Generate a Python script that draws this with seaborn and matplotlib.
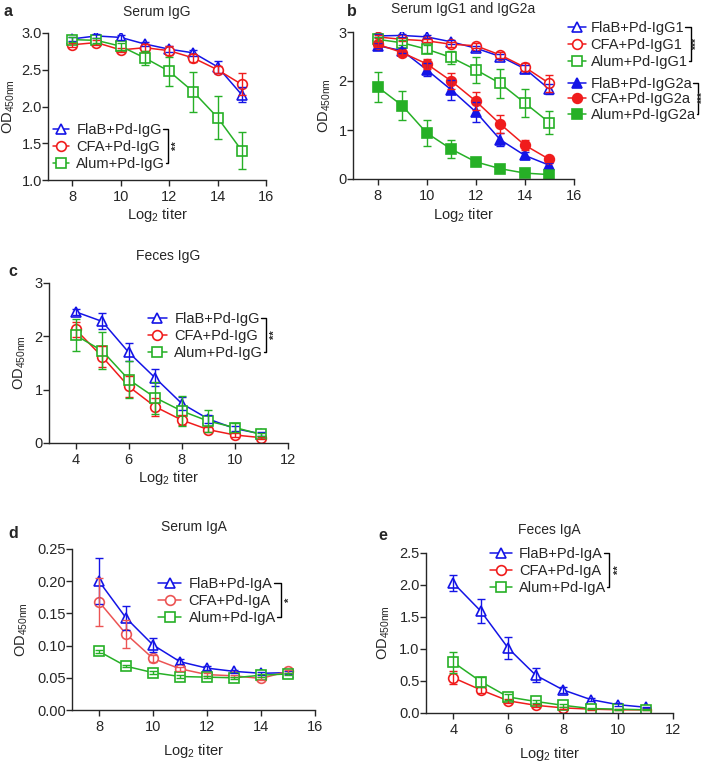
import matplotlib
matplotlib.use("Agg")
import matplotlib.pyplot as plt
import matplotlib.ticker as mticker
import seaborn as sns
from matplotlib.lines import Line2D

sns.set_style("ticks")
plt.rcParams["font.family"] = ["Liberation Sans", "DejaVu Sans"]
plt.rcParams["mathtext.default"] = "regular"
plt.rcParams["axes.linewidth"] = 1.0

BLUE = "#1414e6"
RED = "#f01c1c"
RED_D = "#ec5454"
GREEN = "#26b026"
FS = 10.5

# ── Data ─────────────────────────────────────────────────────────────────────
x_serum = [8, 9, 10, 11, 12, 13, 14, 15]
x_feces = [4, 5, 6, 7, 8, 9, 10, 11]

# a — Serum IgG
a_flab = [2.92, 2.96, 2.94, 2.85, 2.78, 2.73, 2.54, 2.16]
a_flab_err = [0.03, 0.03, 0.03, 0.03, 0.04, 0.04, 0.08, 0.10]
a_cfa = [2.84, 2.87, 2.77, 2.80, 2.76, 2.66, 2.50, 2.30]
a_cfa_err = [0.03, 0.03, 0.03, 0.05, 0.06, 0.05, 0.05, 0.15]
a_alum = [2.91, 2.90, 2.82, 2.66, 2.48, 2.20, 1.85, 1.40]
a_alum_err = [0.03, 0.03, 0.05, 0.10, 0.20, 0.27, 0.29, 0.25]

# b — Serum IgG1 / IgG2a
b_flab1 = [2.92, 2.93, 2.90, 2.80, 2.67, 2.50, 2.25, 1.83]
b_flab1_err = [0.03, 0.03, 0.03, 0.04, 0.05, 0.06, 0.08, 0.10]
b_cfa1 = [2.90, 2.85, 2.82, 2.75, 2.72, 2.53, 2.28, 1.95]
b_cfa1_err = [0.03, 0.03, 0.03, 0.05, 0.05, 0.06, 0.08, 0.17]
b_alum1 = [2.85, 2.78, 2.65, 2.48, 2.23, 1.95, 1.55, 1.15]
b_alum1_err = [0.05, 0.05, 0.08, 0.13, 0.27, 0.30, 0.28, 0.23]
b_flab2a = [2.72, 2.62, 2.23, 1.82, 1.37, 0.80, 0.48, 0.28]
b_flab2a_err = [0.05, 0.05, 0.13, 0.20, 0.20, 0.13, 0.07, 0.05]
b_cfa2a = [2.75, 2.58, 2.35, 2.00, 1.59, 1.12, 0.69, 0.40]
b_cfa2a_err = [0.05, 0.06, 0.10, 0.17, 0.19, 0.18, 0.10, 0.05]
b_alum2a = [1.88, 1.50, 0.94, 0.61, 0.35, 0.21, 0.12, 0.09]
b_alum2a_err = [0.30, 0.30, 0.27, 0.18, 0.05, 0.03, 0.02, 0.02]

# c — Feces IgG
c_flab = [2.46, 2.28, 1.70, 1.22, 0.74, 0.45, 0.27, 0.17]
c_flab_err = [0.06, 0.15, 0.17, 0.16, 0.12, 0.08, 0.05, 0.03]
c_cfa = [2.13, 1.62, 1.06, 0.68, 0.43, 0.25, 0.15, 0.10]
c_cfa_err = [0.14, 0.20, 0.20, 0.17, 0.10, 0.05, 0.03, 0.02]
c_alum = [2.02, 1.73, 1.19, 0.85, 0.60, 0.41, 0.29, 0.16]
c_alum_err = [0.30, 0.35, 0.34, 0.30, 0.28, 0.20, 0.08, 0.03]

# d — Serum IgA
d_flab = [0.200, 0.143, 0.101, 0.075, 0.065, 0.060, 0.057, 0.058]
d_flab_err = [0.036, 0.019, 0.011, 0.004, 0.003, 0.002, 0.002, 0.002]
d_cfa = [0.168, 0.118, 0.080, 0.064, 0.055, 0.053, 0.049, 0.060]
d_cfa_err = [0.037, 0.022, 0.006, 0.003, 0.002, 0.002, 0.002, 0.002]
d_alum = [0.091, 0.068, 0.058, 0.052, 0.051, 0.050, 0.054, 0.056]
d_alum_err = [0.002, 0.002, 0.002, 0.002, 0.002, 0.002, 0.002, 0.002]

# e — Feces IgA
e_flab = [2.03, 1.59, 1.01, 0.59, 0.36, 0.21, 0.13, 0.09]
e_flab_err = [0.13, 0.19, 0.17, 0.11, 0.04, 0.03, 0.02, 0.01]
e_cfa = [0.55, 0.36, 0.19, 0.12, 0.08, 0.06, 0.05, 0.05]
e_cfa_err = [0.10, 0.05, 0.03, 0.02, 0.01, 0.01, 0.01, 0.01]
e_alum = [0.79, 0.49, 0.25, 0.18, 0.12, 0.07, 0.06, 0.05]
e_alum_err = [0.17, 0.08, 0.04, 0.03, 0.02, 0.01, 0.01, 0.01]

W, H = 709, 764
fig = plt.figure(figsize=(W / 100, H / 100), dpi=100)


def px_axes(left, top, right, bottom):
    return fig.add_axes([left / W, 1 - bottom / H, (right - left) / W, (bottom - top) / H])


def series(ax, x, y, err, color, marker, label, filled=False):
    sns.lineplot(x=x, y=y, ax=ax, color=color, marker=marker, markersize=7,
                 markerfacecolor=color if filled else "white", markeredgecolor=color,
                 markeredgewidth=1.2, linewidth=1.1, label=label, legend=False,
                 errorbar=None, zorder=2)
    line = ax.lines[-1]
    ax.errorbar(x, y, yerr=err, fmt="none", ecolor=color, elinewidth=1.0,
                capsize=3.2, capthick=1.0, zorder=3)
    return line


def style(ax, title, xlim, xticks, ylim, yticks, yfmt, title_pad, ypad=5, xpad=2):
    ax.set_xlim(*xlim)
    ax.set_ylim(*ylim)
    ax.set_xticks(xticks)
    ax.set_yticks(yticks)
    ax.yaxis.set_major_formatter(mticker.FormatStrFormatter(yfmt))
    ax.tick_params(labelsize=FS, length=4, width=1.0, direction="out")
    ax.tick_params(axis="x", pad=3)
    ax.tick_params(axis="y", pad=0.5)
    ax.set_xlabel("Log$_2$ titer", fontsize=FS, labelpad=xpad)
    ax.set_ylabel("OD$_{450nm}$", fontsize=FS, labelpad=ypad)
    ax.set_title(title, fontsize=10, pad=title_pad + 1.5)
    sns.despine(ax=ax)


def legend(ax, handles, left, top, hl=1.3, tp=0.5, ls=0.2):
    return ax.legend(handles=handles, loc="upper left",
                     bbox_to_anchor=(left / W, 1 - (top + 3.5) / H), bbox_transform=fig.transFigure,
                     frameon=False, fontsize=FS, borderpad=0, borderaxespad=0,
                     labelspacing=ls, handlelength=hl, handletextpad=tp)


# ── a ───────────────────────────────────────────────────────────────────────
ax_a = px_axes(48, 33, 266, 180)
h_a = [series(ax_a, x_serum, a_flab, a_flab_err, BLUE, "^", "FlaB+Pd-IgG"),
       series(ax_a, x_serum, a_cfa, a_cfa_err, RED, "o", "CFA+Pd-IgG"),
       series(ax_a, x_serum, a_alum, a_alum_err, GREEN, "s", "Alum+Pd-IgG")]
style(ax_a, "Serum IgG", (7, 16), [8, 10, 12, 14, 16], (1.0, 3.0),
      [1.0, 1.5, 2.0, 2.5, 3.0], "%.1f", 11, ypad=3)
leg_a = legend(ax_a, h_a, 53, 119.5, hl=1.1)

# ── b ───────────────────────────────────────────────────────────────────────
ax_b = px_axes(353, 32, 574, 179)
h_b = [series(ax_b, x_serum, b_flab1, b_flab1_err, BLUE, "^", "FlaB+Pd-IgG1"),
       series(ax_b, x_serum, b_cfa1, b_cfa1_err, RED, "o", "CFA+Pd-IgG1"),
       series(ax_b, x_serum, b_alum1, b_alum1_err, GREEN, "s", "Alum+Pd-IgG1"),
       series(ax_b, x_serum, b_flab2a, b_flab2a_err, BLUE, "^", "FlaB+Pd-IgG2a", filled=True),
       series(ax_b, x_serum, b_cfa2a, b_cfa2a_err, RED, "o", "CFA+Pd-IgG2a", filled=True),
       series(ax_b, x_serum, b_alum2a, b_alum2a_err, GREEN, "s", "Alum+Pd-IgG2a", filled=True)]
style(ax_b, "Serum IgG1 and IgG2a", (7, 16), [8, 10, 12, 14, 16], (0, 3),
      [0, 1, 2, 3], "%d", 12, ypad=4)
leg_b1 = legend(ax_b, h_b[:3], 568, 17.5, hl=1.2, tp=0.35)
ax_b.add_artist(leg_b1)
leg_b2 = legend(ax_b, h_b[3:], 568, 73.5, hl=1.2, tp=0.35, ls=0.1)

# ── c ───────────────────────────────────────────────────────────────────────
ax_c = px_axes(49, 283, 288, 443)
h_c = [series(ax_c, x_feces, c_flab, c_flab_err, BLUE, "^", "FlaB+Pd-IgG"),
       series(ax_c, x_feces, c_cfa, c_cfa_err, RED, "o", "CFA+Pd-IgG"),
       series(ax_c, x_feces, c_alum, c_alum_err, GREEN, "s", "Alum+Pd-IgG")]
style(ax_c, "Feces IgG", (3, 12), [4, 6, 8, 10, 12], (0, 3), [0, 1, 2, 3], "%d", 15)
leg_c = legend(ax_c, h_c, 148, 308.5)

# ── d ───────────────────────────────────────────────────────────────────────
ax_d = px_axes(72, 549, 315, 710)
h_d = [series(ax_d, x_serum, d_flab, d_flab_err, BLUE, "^", "FlaB+Pd-IgA"),
       series(ax_d, x_serum, d_cfa, d_cfa_err, RED_D, "o", "CFA+Pd-IgA"),
       series(ax_d, x_serum, d_alum, d_alum_err, GREEN, "s", "Alum+Pd-IgA")]
style(ax_d, "Serum IgA", (7, 16), [8, 10, 12, 14, 16], (0, 0.25),
      [0, 0.05, 0.10, 0.15, 0.20, 0.25], "%.2f", 11.5, xpad=6)
leg_d = legend(ax_d, h_d, 158, 573.5, hl=1.6)

# ── e ───────────────────────────────────────────────────────────────────────
ax_e = px_axes(426, 553, 673, 713)
h_e = [series(ax_e, x_feces, e_flab, e_flab_err, BLUE, "^", "FlaB+Pd-IgA"),
       series(ax_e, x_feces, e_cfa, e_cfa_err, RED, "o", "CFA+Pd-IgA"),
       series(ax_e, x_feces, e_alum, e_alum_err, GREEN, "s", "Alum+Pd-IgA")]
style(ax_e, "Feces IgA", (3, 12), [4, 6, 8, 10, 12], (0, 2.5),
      [0, 0.5, 1.0, 1.5, 2.0, 2.5], "%.1f", 12, xpad=6)
leg_e = legend(ax_e, h_e, 490, 543.5, hl=1.5)

# ── panel letters ───────────────────────────────────────────────────────────
for letter, lx, ly in [("a", 3, 12), ("b", 347, 12), ("c", 8, 271), ("d", 8, 533), ("e", 378, 535)]:
    fig.text(lx / W, 1 - ly / H, letter, fontsize=11.5, fontweight="bold", va="center", ha="left")

# ── significance brackets next to the legends ───────────────────────────────
fig.canvas.draw()
renderer = fig.canvas.get_renderer()
to_fig = fig.transFigure.inverted()


def bracket(leg, stars, gap=3, sgap=4, sfs=8):
    boxes = [t.get_window_extent(renderer) for t in leg.get_texts()]
    xr = max(b.x1 for b in boxes) + gap
    yt = (boxes[0].y0 + boxes[0].y1) / 2 + 1
    yb = (boxes[-1].y0 + boxes[-1].y1) / 2 + 1
    pts = [(boxes[0].x1 + 1, yt), (xr, yt), (xr, yb), (boxes[-1].x1 + 1, yb)]
    pts = to_fig.transform(pts)
    fig.add_artist(Line2D(pts[:, 0], pts[:, 1], color="black", lw=1.0,
                          transform=fig.transFigure))
    sx, sy = to_fig.transform((xr + sgap, (yt + yb) / 2))
    fig.text(sx, sy, stars, rotation=90, ha="left", va="center", fontsize=sfs, fontweight="bold")


bracket(leg_a, "**")
bracket(leg_b1, "***", sgap=1.5, sfs=7.5)
bracket(leg_b2, "***", gap=2, sgap=0.5, sfs=7.5)
bracket(leg_c, "**")
bracket(leg_d, "*", gap=5)
bracket(leg_e, "**")

fig.savefig("out.png", dpi=100)
